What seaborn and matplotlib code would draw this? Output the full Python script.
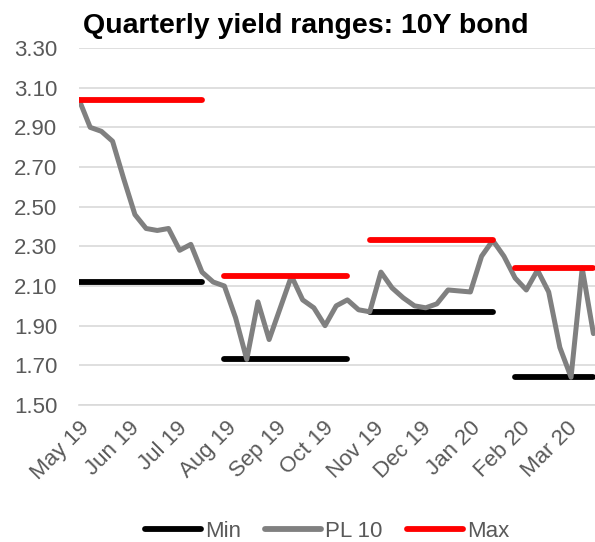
import pandas as pd
import numpy as np
import matplotlib
matplotlib.use('Agg')
import matplotlib.pyplot as plt
import matplotlib.dates as mdates
import seaborn as sns

sns.set_style('white')
plt.rcParams['font.family'] = ['Liberation Sans', 'DejaVu Sans']

# weekly observations, 10Y yield
start_date = '2019-05-01'
pl10 = [3.04, 2.90, 2.88, 2.83, 2.64, 2.46, 2.39, 2.38, 2.39, 2.28, 2.31, 2.17,
        2.12, 2.10, 1.94, 1.73, 2.02, 1.83, 1.99, 2.15, 2.03, 1.99, 1.90, 2.00,
        2.03, 1.98, 1.97, 2.17, 2.09, 2.04, 2.00, 1.99, 2.01, 2.08, 2.075, 2.07,
        2.25, 2.33, 2.25, 2.14, 2.08, 2.18, 2.07, 1.79, 1.64, 2.19, 1.86]
# quarter each point belongs to for the range lines (-1 = no range point)
quarter = [0] * 12 + [-1] + [1] * 12 + [-1] + [2] * 12 + [-1] + [3] * 8
q_min = [2.12, 1.73, 1.97, 1.64]
q_max = [3.04, 2.15, 2.33, 2.19]

dates = pd.date_range(start_date, periods=len(pl10), freq='7D')
df = pd.DataFrame({'date': dates, 'PL 10': pl10, 'quarter': quarter})
rng = df[df['quarter'] >= 0].copy()
rng['Min'] = [q_min[q] for q in rng['quarter']]
rng['Max'] = [q_max[q] for q in rng['quarter']]

fig = plt.figure(figsize=(5.95, 5.42), dpi=100)
ax = fig.add_axes([0.1328, 0.2528, 0.8672, 0.6586])

lw_kw = dict(solid_capstyle='round', solid_joinstyle='round')
sns.lineplot(data=rng, x='date', y='Min', units='quarter', estimator=None,
             color='black', linewidth=4.2, ax=ax, **lw_kw)
sns.lineplot(data=df, x='date', y='PL 10', color='#808080', linewidth=3.6,
             ax=ax, **lw_kw)
sns.lineplot(data=rng, x='date', y='Max', units='quarter', estimator=None,
             color='#ff0000', linewidth=4.2, ax=ax, **lw_kw)

ax.set_ylim(1.5, 3.3)
ax.set_yticks(np.arange(1.5, 3.31, 0.2))
ax.yaxis.set_major_formatter(matplotlib.ticker.FormatStrFormatter('%.2f'))
ax.set_xlim(pd.Timestamp('2019-05-01'), dates[-1] + pd.Timedelta(days=1))
ax.xaxis.set_major_locator(mdates.MonthLocator())
ax.xaxis.set_major_formatter(mdates.DateFormatter('%b %y'))
ax.set_xlabel('')
ax.set_ylabel('')

ax.grid(axis='y', color='#d9d9d9', linewidth=1.2)
ax.set_axisbelow(True)
for s in ['left', 'right', 'top']:
    ax.spines[s].set_visible(False)
ax.spines['bottom'].set_color('#d9d9d9')
ax.spines['bottom'].set_linewidth(1.2)
ax.tick_params(axis='y', length=0, labelsize=16, labelcolor='#595959', pad=15.5)
ax.tick_params(axis='x', length=5, width=1.2, color='#d9d9d9', direction='out',
               labelsize=16, labelcolor='#595959', pad=4)
for lab in ax.get_xticklabels():
    lab.set_rotation(45)
    lab.set_ha('right')
    lab.set_rotation_mode('anchor')

fig.text(0.139, 0.939, 'Quarterly yield ranges: 10Y bond', fontsize=20.5,
         fontweight='bold', color='black', va='baseline', ha='left')

handles = [plt.Line2D([], [], color='black', linewidth=4.2, solid_capstyle='round'),
           plt.Line2D([], [], color='#808080', linewidth=4.2, solid_capstyle='round'),
           plt.Line2D([], [], color='#ff0000', linewidth=4.2, solid_capstyle='round')]
fig.legend(handles, ['Min', 'PL 10', 'Max'], loc='center', bbox_to_anchor=(0.55, 0.02),
           ncol=3, frameon=False, fontsize=16, labelcolor='#595959',
           handlelength=2.5, handletextpad=0.2, columnspacing=1.1)

fig.savefig('out.png', dpi=100)
